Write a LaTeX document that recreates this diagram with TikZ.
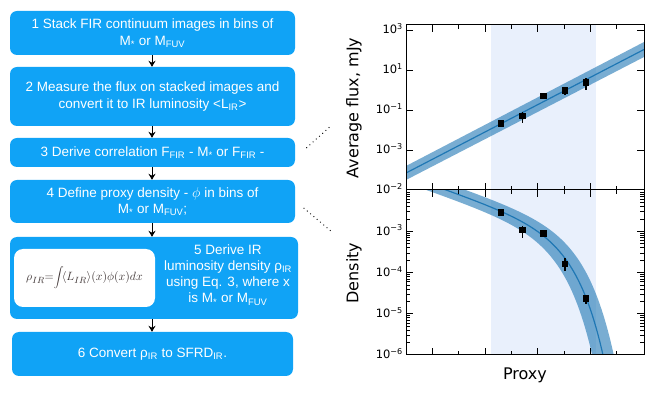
\documentclass[tikz,border=0pt]{standalone}
\usepackage{fontspec}
\setmainfont{Liberation Sans}
\newfontfamily\mplfont{DejaVu Sans}
\usetikzlibrary{arrows.meta}
\definecolor{boxB}{RGB}{16,163,246}
\definecolor{lineB}{RGB}{31,119,180}
\definecolor{spanB}{RGB}{233,240,252}
\definecolor{eqG}{RGB}{60,50,50}

\begin{document}
\begin{tikzpicture}[x=1pt,y=-1pt,>={Stealth[length=6pt,width=7pt]},
  stepbox/.style={rectangle,rounded corners=7pt,fill=boxB,text=white,align=center,inner sep=0pt,minimum width=285pt,font=\fontsize{13.5}{16.7}\selectfont},
  ticklab/.style={anchor=base east,inner sep=0pt,font=\mplfont\fontsize{11.5}{13}\selectfont},
  axlab/.style={font=\mplfont\fontsize{16}{18}\selectfont},
  dots/.style={line width=1.3pt,line cap=round,dash pattern=on 0pt off 4.3pt},
  declare function={yb(\u,\s)=190+0.35*\u+7*\s+0.342*exp((\u+10*\s)/27);}]
\useasboundingbox (0,0) rectangle (654,395);
% flow of steps
\node[stepbox,minimum height=44pt] (s1) at (152.5,33) {1 Stack FIR continuum images in bins of\\M\textsubscript{*} or M\textsubscript{FUV}};
\node[stepbox,minimum height=59pt] (s2) at (152.5,96.5) {2 Measure the flux on stacked images and\\convert it to IR luminosity <L\textsubscript{IR}>};
\node[stepbox,minimum height=29pt] (s3) at (152.5,152.5) {3 Derive correlation F\textsubscript{FIR} - M\textsubscript{*} or F\textsubscript{FIR} -};
\node[stepbox,minimum height=43pt] (s4) at (152.5,201.5) {4 Define proxy density - $\phi$ in bins of\\M\textsubscript{*} or M\textsubscript{FUV};};
\node[stepbox,minimum height=82pt,minimum width=288pt] (s5) at (154,278) {};
\node[fill=white,rounded corners=9pt,minimum width=141pt,minimum height=58pt,text=eqG,font=\fontsize{12.5}{15}\selectfont] (eq) at (84.5,278) {$\displaystyle\rho_{IR}{=}\!\int\!\langle L_{IR}\rangle(x)\phi(x)dx$};
\node[align=center,text=white,inner sep=0pt,font=\fontsize{13.5}{16.1}\selectfont] (s5txt) at (228,275) {5 Derive IR\\luminosity density ρ\textsubscript{IR}\\using Eq. 3, where x\\is M\textsubscript{*} or M\textsubscript{FUV}};
\node[stepbox,minimum height=44pt,minimum width=281pt] (s6) at (152.5,354) {6 Convert ρ\textsubscript{IR} to SFRD\textsubscript{IR}.};
\coordinate (ax) at (152,0);
\foreach \a/\b in {s1/s2,s2/s3,s3/s4,s4/s5,s5/s6}
  \draw[->,line width=0.9pt] (\a.south -| ax) -- (\b.north -| ax);
% dotted leaders
\coordinate (d1a) at (306.7,147.7); \coordinate (d1b) at (330,126.7);
\coordinate (d2a) at (304,208.3); \coordinate (d2b) at (331.7,231.7);
\draw[dots] (d1a) -- (d1b);
\draw[dots] (d2a) -- (d2b);
% proxy range
\fill[spanB] (491,25) rectangle (596,355);
% upper panel: flux
\begin{scope}
\clip (406,25) rectangle (644,190);
\fill[lineB,fill opacity=0.6] (406,166) -- (644,42) -- (644,57) -- (406,180) -- cycle;
\draw[lineB,line width=1.2pt] (406,173) -- (644,49.5);
\end{scope}
\foreach \x/\y/\a/\b in {501/123.3/1/1,522.3/116/4/7.3,543.7/96/1/1,565/90.7/2/4.5,586/82.3/4/7.7}{
  \draw[line width=1.3pt] (\x,\y-\a) -- (\x,\y+\b);
  \fill (\x-3.3,\y-3.3) rectangle (\x+3.3,\y+3.3);}
% lower panel: density
\begin{scope}
\clip (406,190) rectangle (644,355);
\fill[lineB,fill opacity=0.6] plot[domain=-45:175,samples=120] ({447+\x},{yb(\x,-1)}) -- plot[domain=175:-45,samples=120] ({447+\x},{yb(\x,1)}) -- cycle;
\draw[lineB,line width=1.2pt] plot[domain=-45:175,samples=120] ({447+\x},{yb(\x,0)});
\end{scope}
\foreach \x/\y/\a/\b in {501/212.7/1/1,522.3/230/4/8,543.7/233.3/1/3.7,565/264/6/7,586/298.7/1/5.3}{
  \draw[line width=1.3pt] (\x,\y-\a) -- (\x,\y+\b);
  \fill (\x-3.3,\y-3.3) rectangle (\x+3.3,\y+3.3);}
% frames and ticks
\draw[line width=1pt] (406,25) rectangle (644,355);
\draw[line width=1pt] (406,190) -- (644,190);
\foreach \k in {1,...,8}{
  \pgfmathsetmacro\tl{mod(\k,2)==1 ? 7 : 4}
  \draw[line width=0.8pt] (406+26.33*\k,25) -- ++(0,\tl) (406+26.33*\k,190) -- ++(0,-\tl)
    (406+26.33*\k,190) -- ++(0,\tl) (406+26.33*\k,355) -- ++(0,-\tl);}
\foreach \y in {30,70,110,150}
  \draw[line width=0.8pt] (406,\y) -- ++(7,0) (644,\y) -- ++(-7,0);
\foreach \k in {1,...,3}
  \draw[line width=0.8pt] (406,190+41.25*\k) -- ++(7,0) (644,190+41.25*\k) -- ++(-7,0);
\foreach \k in {0,...,3}
  \foreach \m in {2,...,9}
    \draw[line width=0.6pt] (406,{190+41.25*(\k+1)-41.25*log10(\m)}) -- ++(4,0)
      (644,{190+41.25*(\k+1)-41.25*log10(\m)}) -- ++(-4,0);
% tick labels
\foreach \y/\e [count=\i] in {30/3,70/1,110/−1,150/−3}
  \node[ticklab] (ft\i) at (403,\y+3.9) {10\textsuperscript{\e}};
\foreach \e [count=\i] in {−2,−3,−4,−5,−6}
  \node[ticklab] (dt\i) at (403,190+41.25*\i-41.25+3.9) {10\textsuperscript{\e}};
\node[axlab,rotate=90] (flab) at (354,108) {Average flux, mJy};
\node[axlab,rotate=90] (dlab) at (354,273) {Density};
\node[axlab] (plab) at (525,375) {Proxy};
\end{tikzpicture}
\end{document}
